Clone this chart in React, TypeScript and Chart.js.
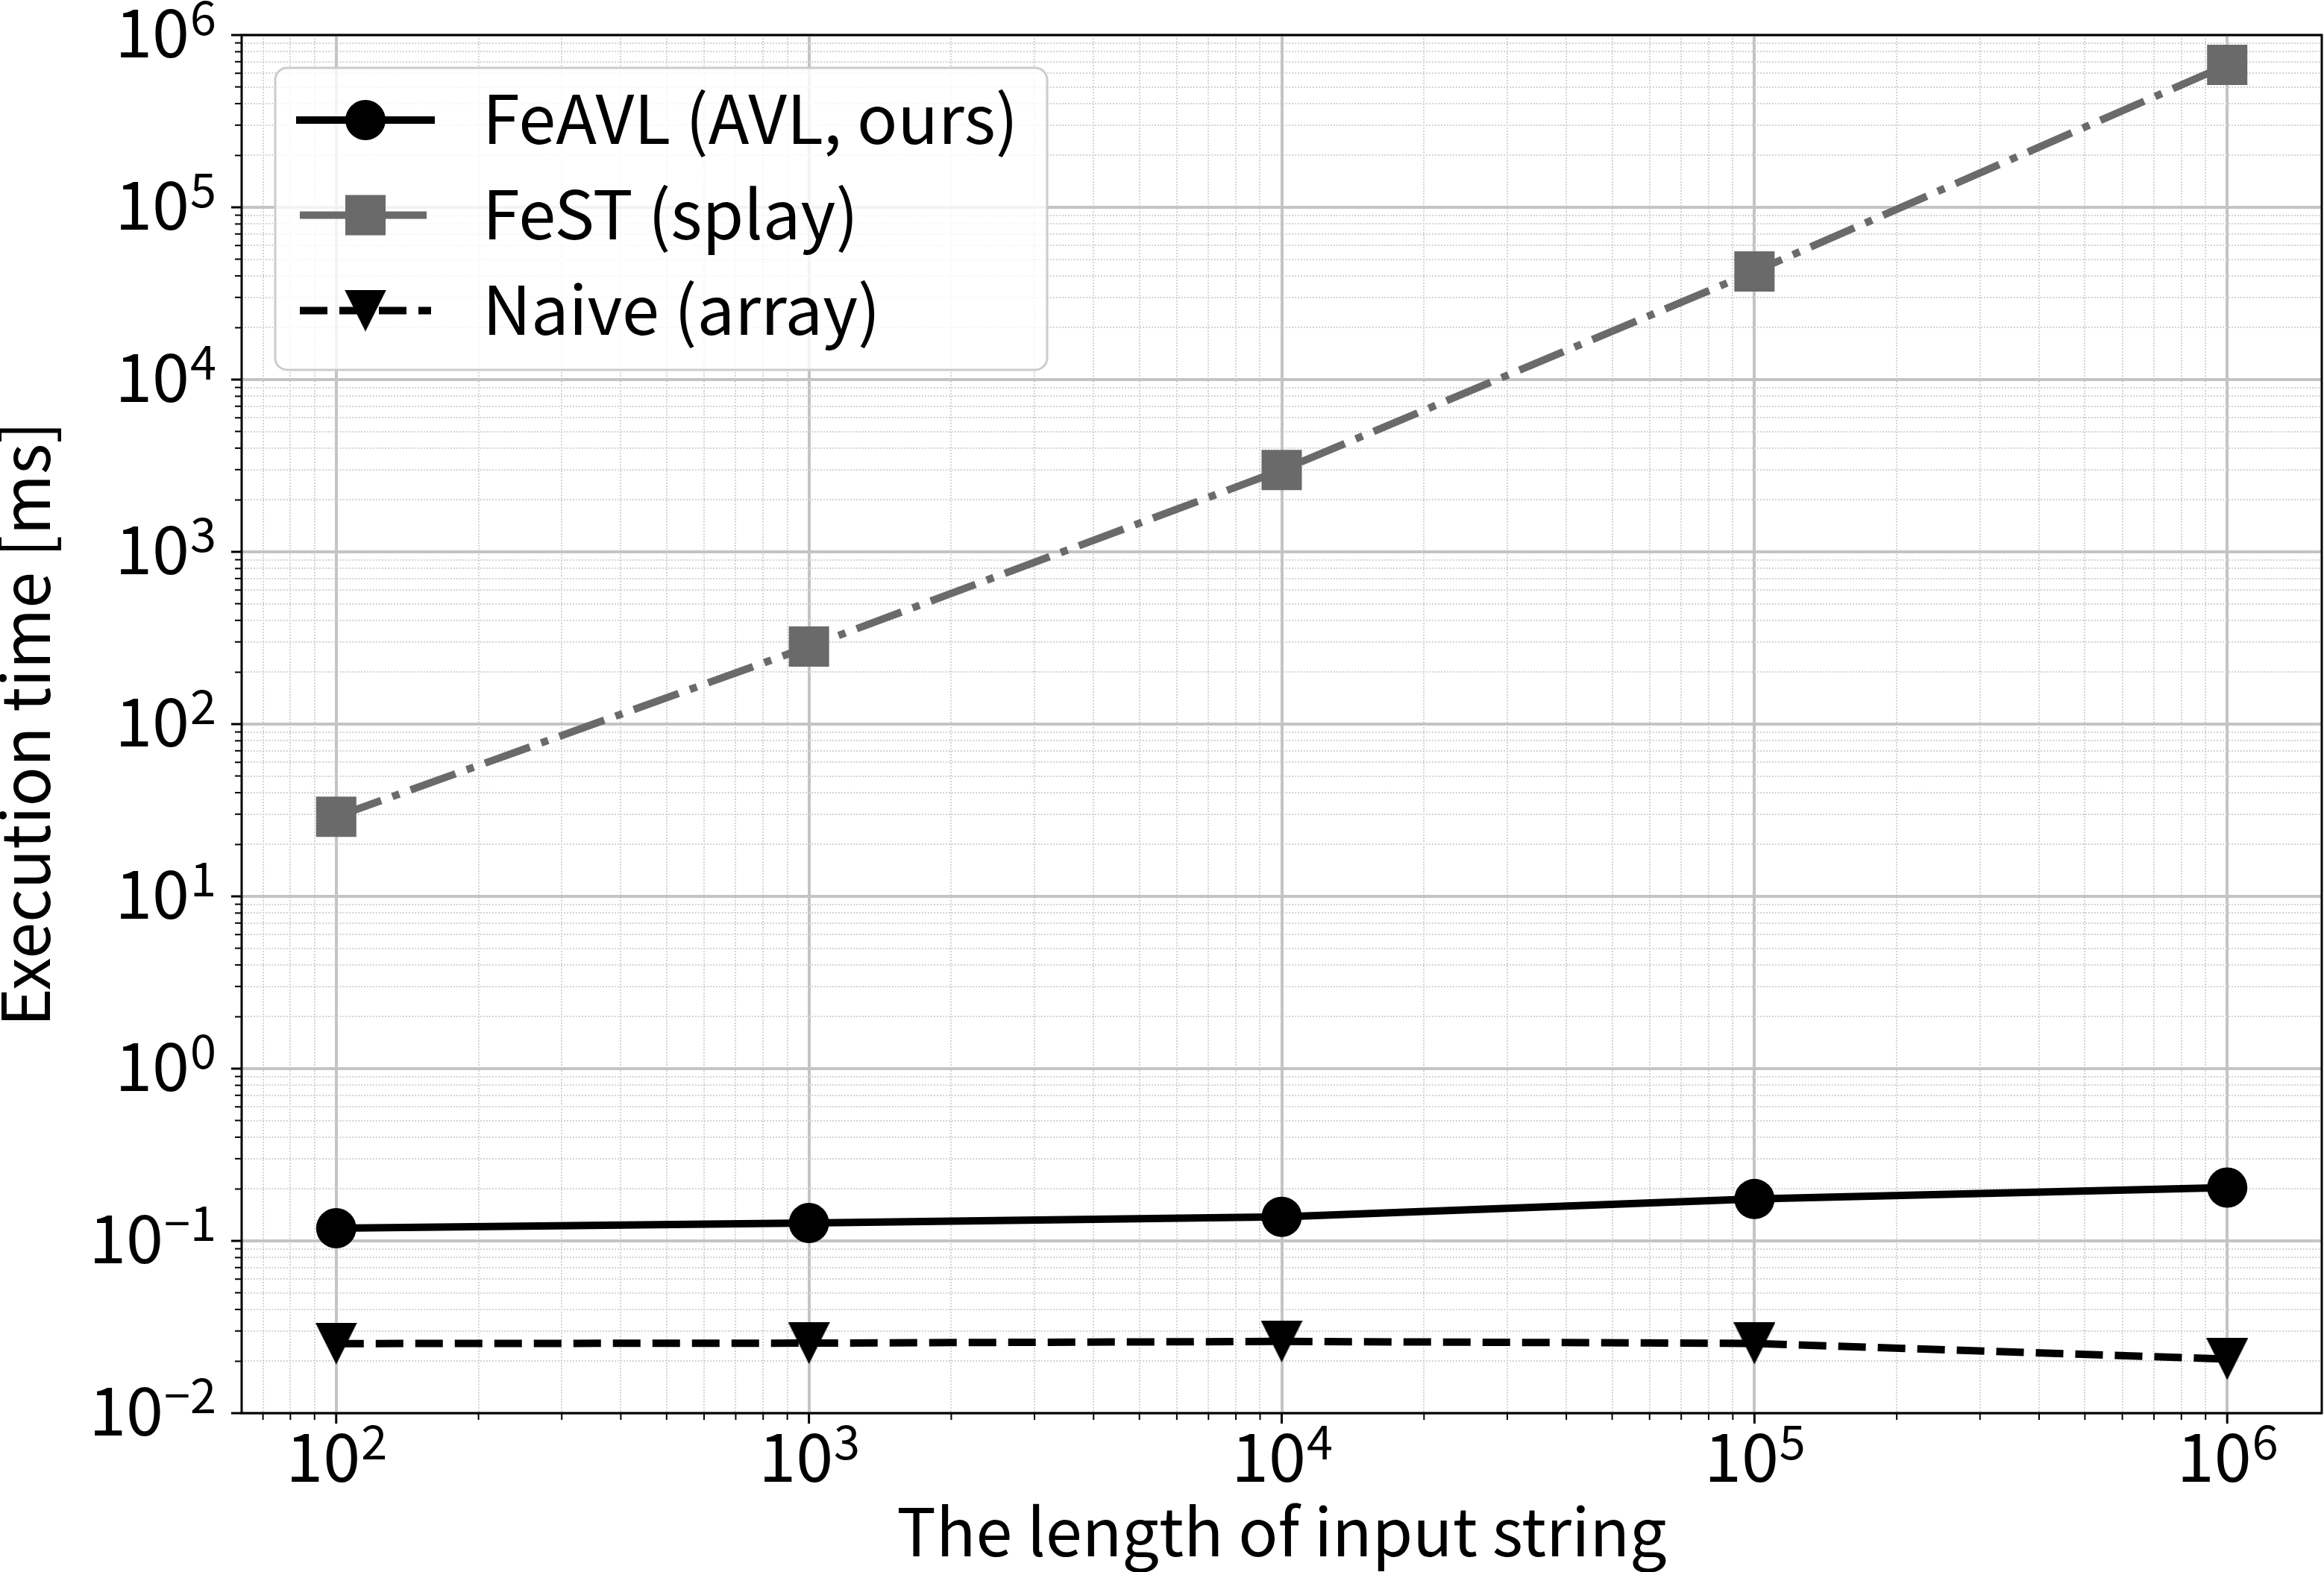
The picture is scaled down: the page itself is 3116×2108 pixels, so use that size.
import React, { useEffect, useRef } from 'react';
import { Chart, registerables } from 'chart.js';

Chart.register(...registerables);

// ---------------- data ----------------
const inputLengths = [1e2, 1e3, 1e4, 1e5, 1e6];
const feAVLTimes = [0.1185, 0.127, 0.138, 0.175, 0.204];
const feSTTimes = [29, 282, 2985, 42400, 671000];
const naiveTimes = [0.02535, 0.0255, 0.0261, 0.0254, 0.0206];
const seriesLabels = ['FeAVL (AVL, ours)', 'FeST (splay)', 'Naive (array)'];
const xTickExponents = [2, 3, 4, 5, 6];
const yTickExponents = [-2, -1, 0, 1, 2, 3, 4, 5, 6];
const xAxisTitle = 'The length of input string';
const yAxisTitle = 'Execution time [ms]';

// ---------------- style ----------------
const W = 3116;
const H = 2108;
const FONT = '"Noto Sans CJK JP", "Noto Sans", sans-serif';
const TICK_FS = 90;
const SUP_FS = 63;
const TEXT_FS = 88;
const LEGEND_FS = 90;
const GRAY = '#6a6a6a';

function tickKind(v: number | undefined): 'major' | 'minor' | 'none' {
  if (v === undefined || !(v > 0)) return 'none';
  const e = Math.floor(Math.log10(v) + 1e-9);
  const s = v / Math.pow(10, e);
  const r = Math.round(s);
  if (Math.abs(s - r) > 1e-6) return 'none';
  return r === 1 ? 'major' : 'minor';
}

function makeTriangle(size: number, color: string) {
  const c = document.createElement('canvas');
  c.width = size;
  c.height = size;
  const t = c.getContext('2d')!;
  t.fillStyle = color;
  t.beginPath();
  t.moveTo(0, 0);
  t.lineTo(size, 0);
  t.lineTo(size / 2, size);
  t.closePath();
  t.fill();
  return c;
}

function drawPow(ctx: CanvasRenderingContext2D, exp: number, x: number, baseline: number, align: 'center' | 'right') {
  const main = '10';
  const sup = exp < 0 ? '\u2212' + String(-exp) : String(exp);
  ctx.font = `${TICK_FS}px ${FONT}`;
  const wm = ctx.measureText(main).width;
  ctx.font = `${SUP_FS}px ${FONT}`;
  const ws = ctx.measureText(sup).width;
  const left = align === 'center' ? x - (wm + ws) / 2 : x - (wm + ws);
  ctx.textAlign = 'left';
  ctx.textBaseline = 'alphabetic';
  ctx.fillStyle = '#000';
  ctx.font = `${TICK_FS}px ${FONT}`;
  ctx.fillText(main, left, baseline);
  ctx.font = `${SUP_FS}px ${FONT}`;
  ctx.fillText(sup, left + wm + 1, baseline - 30);
}

const decorPlugin = {
  id: 'decor',
  afterDatasetsDraw(chart: any) {
    const { ctx, chartArea: a, scales } = chart;
    const xs = scales.x;
    const ys = scales.y;
    ctx.save();
    // spines
    ctx.strokeStyle = '#000';
    ctx.lineWidth = 3;
    ctx.setLineDash([]);
    ctx.strokeRect(a.left, a.top, a.right - a.left, a.bottom - a.top);
    // tick marks
    for (const t of xs.ticks) {
      const k = tickKind(t.value);
      if (k === 'none') continue;
      const px = xs.getPixelForValue(t.value);
      if (px < a.left - 1 || px > a.right + 1) continue;
      ctx.lineWidth = k === 'major' ? 3 : 2;
      ctx.beginPath();
      ctx.moveTo(px, a.bottom);
      ctx.lineTo(px, a.bottom + (k === 'major' ? 14 : 9));
      ctx.stroke();
    }
    for (const t of ys.ticks) {
      const k = tickKind(t.value);
      if (k === 'none') continue;
      const py = ys.getPixelForValue(t.value);
      if (py < a.top - 1 || py > a.bottom + 1) continue;
      ctx.lineWidth = k === 'major' ? 3 : 2;
      ctx.beginPath();
      ctx.moveTo(a.left, py);
      ctx.lineTo(a.left - (k === 'major' ? 14 : 9), py);
      ctx.stroke();
    }
    // tick labels
    for (const e of xTickExponents) {
      const px = xs.getPixelForValue(Math.pow(10, e));
      drawPow(ctx, e, px, a.bottom + 92, 'center');
    }
    for (const e of yTickExponents) {
      const py = ys.getPixelForValue(Math.pow(10, e));
      drawPow(ctx, e, a.left - 35, py + 30, 'right');
    }
    // axis titles
    ctx.fillStyle = '#000';
    ctx.font = `${TEXT_FS}px ${FONT}`;
    ctx.textAlign = 'center';
    ctx.textBaseline = 'alphabetic';
    ctx.fillText(xAxisTitle, (a.left + a.right) / 2, 2087);
    ctx.save();
    ctx.translate(67, (a.top + a.bottom) / 2);
    ctx.rotate(-Math.PI / 2);
    ctx.fillText(yAxisTitle, 0, 0);
    ctx.restore();
    ctx.restore();
  },
  afterDraw(chart: any) {
    const { ctx } = chart;
    ctx.save();
    // legend frame
    const lx = 369, ly = 91, lw = 1404 - 369, lh = 496 - 91;
    ctx.beginPath();
    (ctx as any).roundRect(lx, ly, lw, lh, 16);
    ctx.fillStyle = 'rgba(255,255,255,0.8)';
    ctx.fill();
    ctx.strokeStyle = '#cccccc';
    ctx.lineWidth = 3;
    ctx.setLineDash([]);
    ctx.stroke();
    const rows = [161, 288.5, 416.5];
    const x0 = 402, x1 = 578, mx = 490;
    chart.data.datasets.forEach((ds: any, i: number) => {
      const ry = rows[i];
      ctx.strokeStyle = ds.borderColor;
      ctx.lineWidth = ds.borderWidth;
      ctx.setLineDash(ds.borderDash || []);
      ctx.lineCap = (ds.borderDash && ds.borderDash.length) ? 'butt' : 'square';
      ctx.beginPath();
      ctx.moveTo(x0, ry);
      ctx.lineTo(x1, ry);
      ctx.stroke();
      ctx.setLineDash([]);
      ctx.lineCap = 'butt';
      ctx.fillStyle = ds.pointBackgroundColor;
      const ps = ds.pointStyle;
      if (ps === 'circle') {
        ctx.beginPath();
        ctx.arc(mx, ry, ds.pointRadius, 0, Math.PI * 2);
        ctx.fill();
      } else if (ps === 'rect') {
        const s = ds.pointRadius * Math.SQRT1_2;
        ctx.fillRect(mx - s, ry - s, 2 * s, 2 * s);
      } else if (ps && typeof ps === 'object') {
        ctx.drawImage(ps, mx - ps.width / 2, ry - ps.height / 2);
      }
      ctx.fillStyle = '#000';
      ctx.font = `${LEGEND_FS}px ${FONT}`;
      ctx.textAlign = 'left';
      ctx.textBaseline = 'alphabetic';
      ctx.fillText(ds.label, 647, ry + 32);
    });
    ctx.restore();
  },
};

export default function App() {
  const ref = useRef<HTMLCanvasElement | null>(null);
  useEffect(() => {
    document.body.style.margin = '0';
    const canvas = ref.current!;
    const tri = makeTriangle(56, '#000');
    const toPts = (ys: number[]) => inputLengths.map((x, i) => ({ x, y: ys[i] }));
    const gridColor = (c: any) => {
      const k = tickKind(c.tick && c.tick.value);
      return k === 'major' ? '#c4c4c4' : k === 'minor' ? '#d4d4d4' : 'rgba(0,0,0,0)';
    };
    const gridWidth = (c: any) => (tickKind(c.tick && c.tick.value) === 'major' ? 4 : 2);
    const gridDash = (c: any) => (tickKind(c.tick && c.tick.value) === 'major' ? [] : [2, 2]);
    const chart = new Chart(canvas, {
      type: 'line',
      data: {
        datasets: [
          {
            label: seriesLabels[0],
            data: toPts(feAVLTimes),
            borderColor: '#000000',
            backgroundColor: '#000000',
            borderWidth: 10,
            borderJoinStyle: 'round',
            pointStyle: 'circle',
            pointRadius: 27,
            pointBorderWidth: 0,
            pointBackgroundColor: '#000000',
            pointBorderColor: '#000000',
            tension: 0,
          } as any,
          {
            label: seriesLabels[1],
            data: toPts(feSTTimes),
            borderColor: GRAY,
            backgroundColor: GRAY,
            borderWidth: 10,
            borderDash: [64, 16, 10, 16],
            borderJoinStyle: 'round',
            pointStyle: 'rect',
            pointRadius: 38.2,
            pointBorderWidth: 0,
            pointBackgroundColor: GRAY,
            pointBorderColor: GRAY,
            tension: 0,
          } as any,
          {
            label: seriesLabels[2],
            data: toPts(naiveTimes),
            borderColor: '#000000',
            backgroundColor: '#000000',
            borderWidth: 10,
            borderDash: [37, 16],
            borderJoinStyle: 'round',
            pointStyle: tri,
            pointRadius: 28,
            pointBorderWidth: 0,
            pointBackgroundColor: '#000000',
            pointBorderColor: '#000000',
            tension: 0,
          } as any,
        ],
      },
      options: {
        responsive: false,
        animation: false,
        devicePixelRatio: 1,
        layout: { autoPadding: false, padding: { top: 47, right: 3, left: 0, bottom: 0 } },
        plugins: { legend: { display: false }, tooltip: { enabled: false }, title: { display: false } },
        events: [],
        scales: {
          x: {
            type: 'logarithmic',
            position: 'bottom',
            min: Math.pow(10, 1.8),
            max: Math.pow(10, 6.2),
            ticks: { display: false },
            grid: { drawTicks: false, color: gridColor, lineWidth: gridWidth },
            border: { display: false, dash: gridDash },
            afterFit: (s: any) => {
              s.height = H - 1895;
            },
          } as any,
          y: {
            type: 'logarithmic',
            position: 'left',
            min: 1e-2,
            max: 1e6,
            ticks: { display: false },
            grid: { drawTicks: false, color: gridColor, lineWidth: gridWidth },
            border: { display: false, dash: gridDash },
            afterFit: (s: any) => {
              s.width = 324;
            },
          } as any,
        },
      },
      plugins: [decorPlugin as any],
    });
    return () => chart.destroy();
  }, []);
  return (
    <canvas ref={ref} width={W} height={H} style={{ display: 'block', width: W + 'px', height: H + 'px' }} />
  );
}
